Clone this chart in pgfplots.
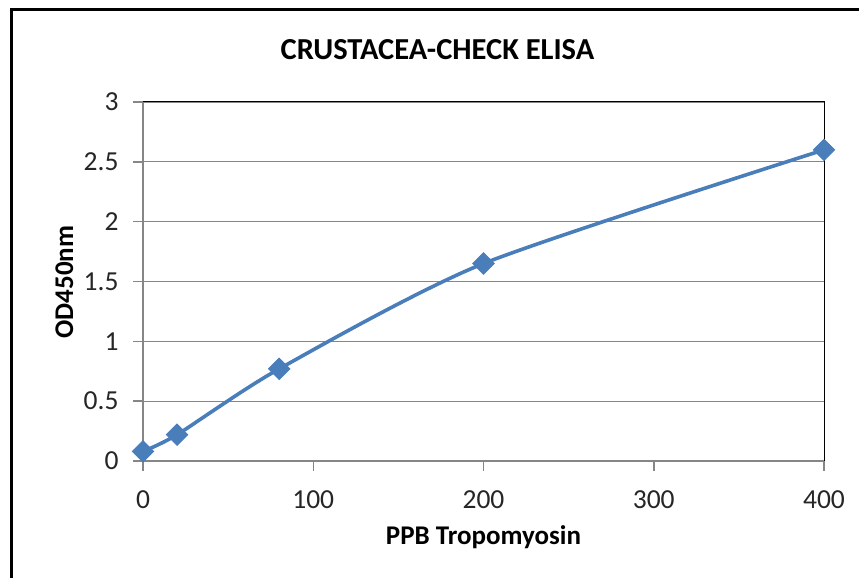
\documentclass[border=0pt]{standalone}
\usepackage{fontspec}
\setmainfont{Carlito}
\usepackage{pgfplots}
\pgfplotsset{compat=1.18}
\definecolor{serblue}{HTML}{4A7EBB}
\definecolor{axgray}{HTML}{868686}
\begin{document}
\begin{tikzpicture}[x=1bp,y=1bp]
\useasboundingbox (0,0) rectangle (859,578);
\draw[line width=3bp] (11.5,0) -- (11.5,568.5) -- (859,568.5);
\begin{axis}[
  at={(143bp,117bp)}, anchor=south west,
  width=681bp, height=359bp, scale only axis,
  xmin=0, xmax=400, ymin=0, ymax=3,
  xtick={0,100,200,300,400},
  ytick={0,0.5,1,1.5,2,2.5,3},
  axis line style={black, line width=1bp},
  ymajorgrids, grid style={axgray, line width=1.3bp},
  xtick pos=bottom, ytick pos=left,
  tick align=outside, major tick length=10bp,
  tick style={axgray, line width=1.5bp},
  /pgf/number format/assume math mode=true,
  ticklabel style={font=\fontsize{27.5bp}{32bp}\selectfont, text=black!85},
  xticklabel style={yshift=-16bp},
  yticklabel style={xshift=-11bp},
  clip=false,
]
\draw[axgray, line width=1.5bp] (rel axis cs:0,1) -- (rel axis cs:0,0) -- (rel axis cs:1,0);
\addplot[serblue, line width=3.6bp, smooth, tension=0.42, mark=square*, mark size=7.5bp,
  mark options={rotate=45, solid, fill=serblue, line width=1bp}] coordinates {
  (0,0.08) (20,0.22) (80,0.77) (200,1.65) (400,2.60)
};
\end{axis}
\node[anchor=base, font=\bfseries\fontsize{30.5bp}{36bp}\selectfont] at (437.5,518) {CRUSTACEA-CHECK ELISA};
\node[anchor=base, font=\bfseries\fontsize{27bp}{32bp}\selectfont] at (483.5,33) {PPB Tropomyosin};
\node[anchor=base, rotate=90, font=\bfseries\fontsize{27bp}{32bp}\selectfont] at (73,296) {OD450nm};
\end{tikzpicture}
\end{document}
